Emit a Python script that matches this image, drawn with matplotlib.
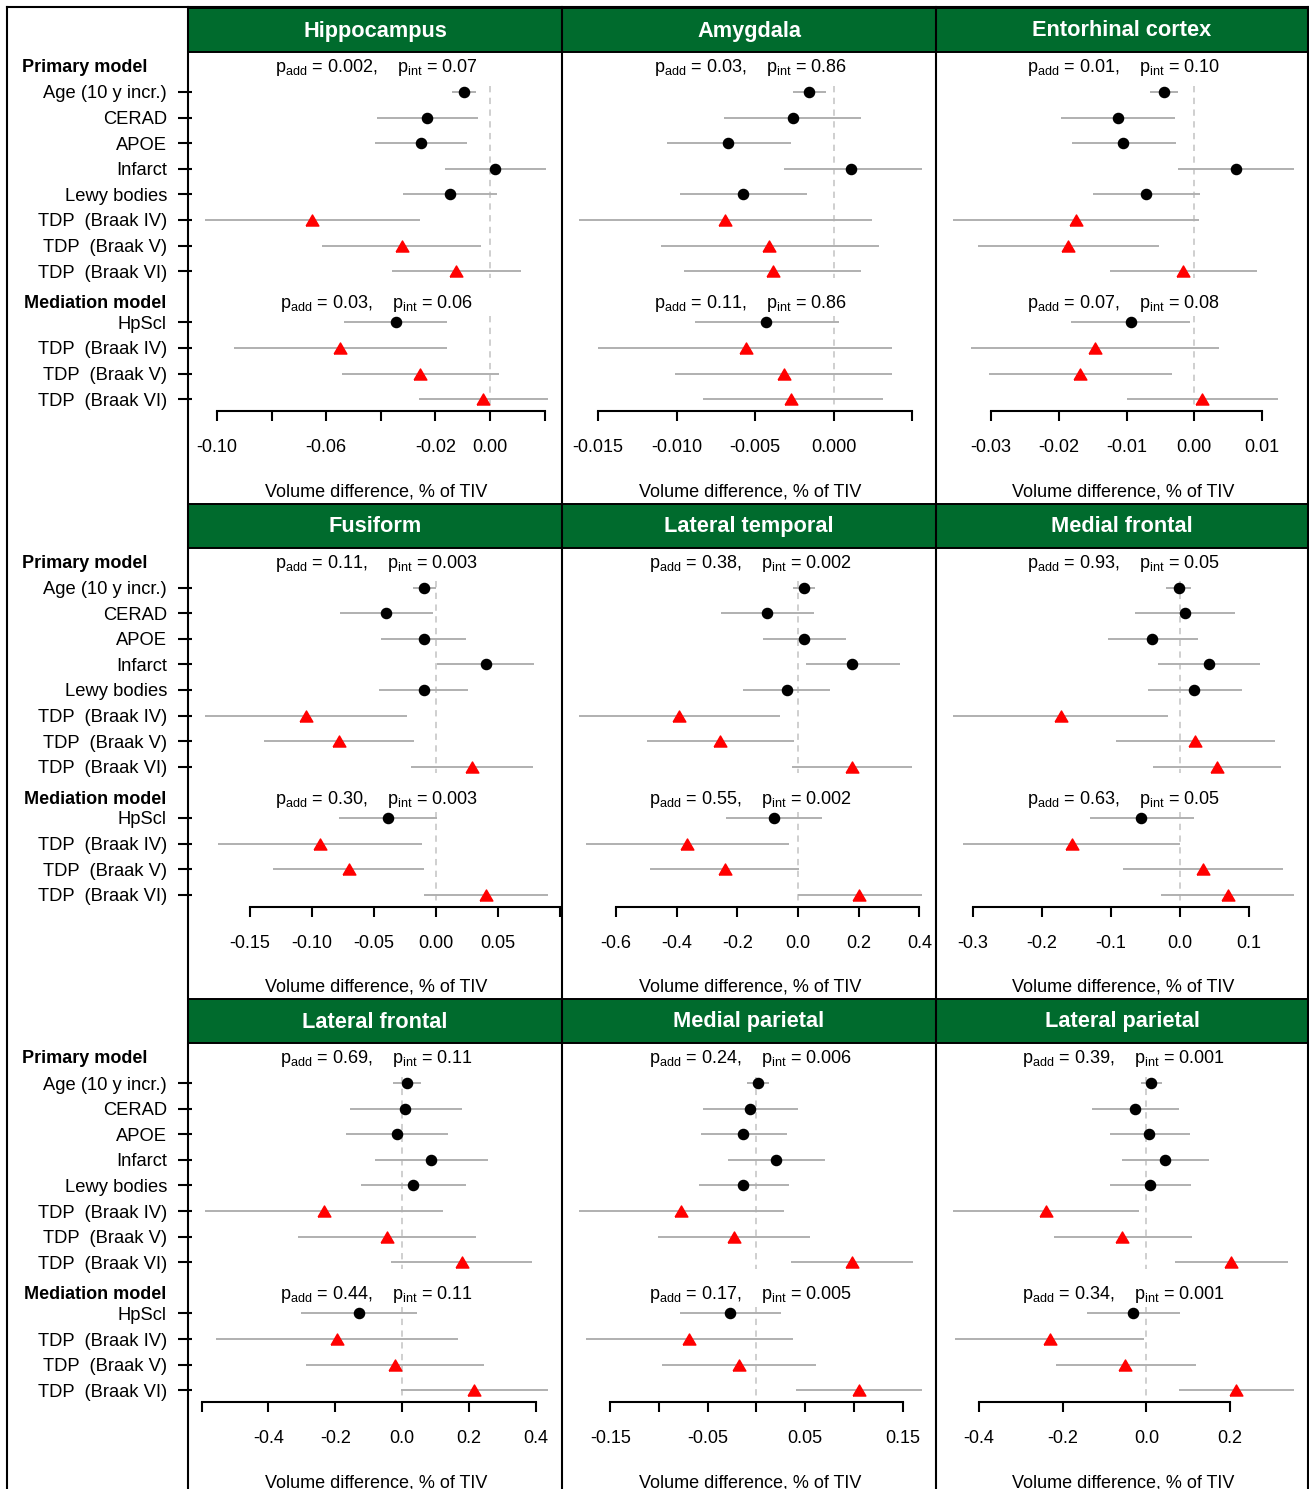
import numpy as np
import matplotlib.pyplot as plt
import matplotlib.transforms as mtransforms
from matplotlib.patches import Rectangle
from matplotlib.lines import Line2D

plt.rcParams['font.family'] = ['Liberation Sans', 'DejaVu Sans']

# ------- data

regions = ['Hippocampus', 'Amygdala', 'Entorhinal cortex',
           'Fusiform', 'Lateral temporal', 'Medial frontal',
           'Lateral frontal', 'Medial parietal', 'Lateral parietal']

primary_rows = ['Age (10 y incr.)', 'CERAD', 'APOE', 'Infarct', 'Lewy bodies',
                'TDP  (Braak IV)', 'TDP  (Braak V)', 'TDP  (Braak VI)']
mediation_rows = ['HpScl', 'TDP  (Braak IV)', 'TDP  (Braak V)', 'TDP  (Braak VI)']
is_tdp = np.array([0, 0, 0, 0, 0, 1, 1, 1, 0, 1, 1, 1], dtype=bool)

p_add_primary = ['0.002', '0.03', '0.01', '0.11', '0.38', '0.93', '0.69', '0.24', '0.39']
p_int_primary = ['0.07', '0.86', '0.10', '0.003', '0.002', '0.05', '0.11', '0.006', '0.001']
p_add_mediation = ['0.03', '0.11', '0.07', '0.30', '0.55', '0.63', '0.44', '0.17', '0.34']
p_int_mediation = ['0.06', '0.86', '0.08', '0.003', '0.002', '0.05', '0.11', '0.005', '0.001']

# estimates: 8 primary-model rows followed by 4 mediation-model rows
est = np.array([
    [-0.0095, -0.0231, -0.0253, 0.0018, -0.0147, -0.0652, -0.0322, -0.0125, -0.0344, -0.0549, -0.0256, -0.0026],
    [-0.0016, -0.0026, -0.0067, 0.0011, -0.0058, -0.0069, -0.0041, -0.0039, -0.0043, -0.0056, -0.0032, -0.0027],
    [-0.0045, -0.0113, -0.0105, 0.0061, -0.0071, -0.0175, -0.0187, -0.0017, -0.0094, -0.0146, -0.0168, 0.0012],
    [-0.0097, -0.0402, -0.0097, 0.0402, -0.0097, -0.1046, -0.0780, 0.0290, -0.0386, -0.0933, -0.0700, 0.0402],
    [0.020, -0.101, 0.020, 0.178, -0.038, -0.393, -0.258, 0.178, -0.081, -0.367, -0.242, 0.200],
    [-0.0014, 0.0072, -0.0402, 0.0416, 0.0201, -0.1722, 0.0215, 0.0531, -0.0560, -0.1564, 0.0330, 0.0689],
    [0.014, 0.008, -0.016, 0.086, 0.032, -0.234, -0.046, 0.178, -0.129, -0.195, -0.022, 0.214],
    [0.0015, -0.0067, -0.0138, 0.0200, -0.0138, -0.0773, -0.0230, 0.0978, -0.0271, -0.0691, -0.0180, 0.1050],
    [0.012, -0.026, 0.007, 0.045, 0.009, -0.239, -0.057, 0.203, -0.031, -0.231, -0.050, 0.214],
])
ci_lo = np.array([
    [-0.0139, -0.0414, -0.0421, -0.0165, -0.0319, -0.1044, -0.0615, -0.0359, -0.0535, -0.0938, -0.0542, -0.0260],
    [-0.0026, -0.0070, -0.0106, -0.0032, -0.0098, -0.0162, -0.0110, -0.0095, -0.0088, -0.0150, -0.0101, -0.0083],
    [-0.0065, -0.0197, -0.0181, -0.0024, -0.0150, -0.0356, -0.0320, -0.0125, -0.0182, -0.0329, -0.0303, -0.0099],
    [-0.0185, -0.0772, -0.0442, 0.0008, -0.0459, -0.1858, -0.1384, -0.0201, -0.0780, -0.1754, -0.1311, -0.0097],
    [-0.016, -0.253, -0.117, 0.027, -0.183, -0.722, -0.498, -0.019, -0.239, -0.699, -0.489, 0.000],
    [-0.0200, -0.0646, -0.1047, -0.0316, -0.0459, -0.3286, -0.0933, -0.0387, -0.1306, -0.3142, -0.0832, -0.0273],
    [-0.028, -0.156, -0.168, -0.082, -0.123, -0.589, -0.311, -0.034, -0.302, -0.556, -0.287, -0.004],
    [-0.0097, -0.0548, -0.0568, -0.0292, -0.0589, -0.1818, -0.1008, 0.0353, -0.0783, -0.1746, -0.0968, 0.0405],
    [-0.012, -0.130, -0.087, -0.057, -0.087, -0.461, -0.220, 0.069, -0.142, -0.456, -0.215, 0.078],
])
ci_hi = np.array([
    [-0.0051, -0.0044, -0.0084, 0.0205, 0.0026, -0.0256, -0.0033, 0.0114, -0.0158, -0.0158, 0.0033, 0.0212],
    [-0.0005, 0.0017, -0.0027, 0.0056, -0.0017, 0.0024, 0.0029, 0.0017, 0.0003, 0.0037, 0.0037, 0.0031],
    [-0.0024, -0.0029, -0.0027, 0.0147, 0.0008, 0.0007, -0.0052, 0.0093, -0.0007, 0.0037, -0.0033, 0.0124],
    [0.0000, -0.0024, 0.0241, 0.0788, 0.0257, -0.0233, -0.0177, 0.0780, 0.0008, -0.0113, -0.0097, 0.0901],
    [0.057, 0.053, 0.158, 0.336, 0.106, -0.061, -0.012, 0.376, 0.079, -0.029, 0.004, 0.408],
    [0.0158, 0.0804, 0.0258, 0.1162, 0.0904, -0.0172, 0.1377, 0.1463, 0.0201, 0.0000, 0.1492, 0.1650],
    [0.056, 0.178, 0.137, 0.256, 0.190, 0.121, 0.220, 0.390, 0.044, 0.166, 0.244, 0.436],
    [0.0128, 0.0425, 0.0312, 0.0701, 0.0333, 0.0282, 0.0548, 0.1603, 0.0251, 0.0374, 0.0609, 0.1695],
    [0.038, 0.078, 0.104, 0.149, 0.106, -0.017, 0.109, 0.338, 0.080, -0.005, 0.118, 0.352],
])

x_ticks = [
    [-0.10, -0.08, -0.06, -0.04, -0.02, 0.00, 0.02],
    [-0.015, -0.010, -0.005, 0.000, 0.005],
    [-0.03, -0.02, -0.01, 0.00, 0.01],
    [-0.15, -0.10, -0.05, 0.00, 0.05, 0.10],
    [-0.6, -0.4, -0.2, 0.0, 0.2, 0.4],
    [-0.3, -0.2, -0.1, 0.0, 0.1],
    [-0.6, -0.4, -0.2, 0.0, 0.2, 0.4],
    [-0.15, -0.10, -0.05, 0.00, 0.05, 0.10, 0.15],
    [-0.4, -0.2, 0.0, 0.2],
]
x_ticklabels = [
    ['-0.10', '', '-0.06', '', '-0.02', '0.00', ''],
    ['-0.015', '-0.010', '-0.005', '0.000', ''],
    ['-0.03', '-0.02', '-0.01', '0.00', '0.01'],
    ['-0.15', '-0.10', '-0.05', '0.00', '0.05', ''],
    ['-0.6', '-0.4', '-0.2', '0.0', '0.2', '0.4'],
    ['-0.3', '-0.2', '-0.1', '0.0', '0.1'],
    ['', '-0.4', '-0.2', '0.0', '0.2', '0.4'],
    ['-0.15', '', '-0.05', '', '0.05', '', '0.15'],
    ['-0.4', '-0.2', '0.0', '0.2'],
]

# ------- layout (pixels)

W, H = 1309, 1489
col_edges = [188, 562, 936, 1308]
row_tops = [8, 503.5, 999]
header_h = 44
axis_drop = 403      # row top -> x axis line
first_row = 84       # row top -> first estimate
row_step = 25.6
inset_l, inset_r = 3.5, 0.5   # plot region sits slightly inside the panel border
green = '#006b2d'

# equilateral triangle (pch 17 style)
tri = [(-1, -0.866), (1, -0.866), (0, 0.866), (-1, -0.866)]


def fx(px):
    return px / W


def fy(py):
    return 1 - py / H


ypos = np.r_[np.arange(8), np.arange(9, 13)]
row_labels = primary_rows + mediation_rows

fig = plt.figure(figsize=(W / 100, H / 100), dpi=100)

for k, region in enumerate(regions):
    r, c = divmod(k, 3)
    left, right = col_edges[c], col_edges[c + 1]
    top = row_tops[r]

    # green title bar
    fig.add_artist(Rectangle((fx(left), fy(top + header_h)), fx(right) - fx(left), header_h / H,
                             transform=fig.transFigure, facecolor=green, edgecolor='black', lw=1.4))
    fig.text(fx((left + right) / 2), fy(top + header_h / 2 + 1), region, color='white',
             fontsize=15.7, fontweight='bold', ha='center', va='center')

    ax = fig.add_axes([fx(left + inset_l), fy(top + axis_drop),
                       fx(right - left - inset_l - inset_r), (axis_drop - header_h) / H])
    ax.set_facecolor('none')

    lo, hi = ci_lo[k].min(), ci_hi[k].max()
    pad = 0.04 * (hi - lo)
    ax.set_xlim(lo - pad, hi + pad)
    ax.set_ylim((axis_drop - first_row) / row_step, -(first_row - header_h) / row_step)

    # reference line at zero, one piece per model
    ax.vlines([0, 0], [-0.25, 8.75], [7.25, 12.25], colors='#cccccc', linestyles=(0, (3.5, 3)), lw=1.3, zorder=1)
    ax.hlines(ypos, ci_lo[k], ci_hi[k], colors='#b0b0b0', lw=1.4, zorder=2)
    ax.plot(est[k][~is_tdp], ypos[~is_tdp], 'o', color='black', ms=7.3, zorder=3)
    ax.plot(est[k][is_tdp], ypos[is_tdp], marker=tri, ls='none', color='red', ms=9.2, zorder=3)

    for s in ['top', 'left', 'right']:
        ax.spines[s].set_visible(False)
    ax.spines['bottom'].set_bounds(x_ticks[k][0], x_ticks[k][-1])
    ax.spines['bottom'].set_linewidth(1.5)
    ax.set_xticks(x_ticks[k], x_ticklabels[k])
    ax.tick_params(axis='x', length=7.2, width=1.5, pad=13.2, labelsize=13)
    ax.set_xlabel('Volume difference, % of TIV', fontsize=13, labelpad=19.3)

    if c == 0:
        ax.set_yticks(ypos, row_labels)
        ax.tick_params(axis='y', length=7.2 + inset_l * 0.72, width=1.5, pad=8, labelsize=13.2)
        fig.text(fx(22), fy(top + first_row - 0.78 * row_step), 'Primary model',
                 fontsize=13, fontweight='bold', ha='left', va='baseline')
        fig.text(fx(24), fy(top + first_row + 8.44 * row_step), 'Mediation model',
                 fontsize=13, fontweight='bold', ha='left', va='baseline')
    else:
        ax.set_yticks([])

    tr = mtransforms.blended_transform_factory(ax.transAxes, ax.transData)
    ax.text(0.5, -0.78, r'$\mathregular{p_{add}}$ = %s,    $\mathregular{p_{int}}$ = %s'
            % (p_add_primary[k], p_int_primary[k]), transform=tr, ha='center', va='baseline', fontsize=13)
    ax.text(0.5, 8.44, r'$\mathregular{p_{add}}$ = %s,    $\mathregular{p_{int}}$ = %s'
            % (p_add_mediation[k], p_int_mediation[k]), transform=tr, ha='center', va='baseline', fontsize=13)

# panel borders and outer frame
for x in col_edges[:3]:
    fig.add_artist(Line2D([fx(x), fx(x)], [fy(7), fy(H + 5)], transform=fig.transFigure, color='black', lw=1.5))
fig.add_artist(Line2D([fx(7), fx(7)], [fy(7), fy(H + 5)], transform=fig.transFigure, color='black', lw=1.5))
fig.add_artist(Line2D([fx(7), fx(W + 5)], [fy(7), fy(7)], transform=fig.transFigure, color='black', lw=1.5))
fig.add_artist(Line2D([fx(1307.5), fx(1307.5)], [fy(7), fy(H + 5)], transform=fig.transFigure, color='black', lw=1.5))

fig.savefig('out.png', dpi=100, facecolor='white')
